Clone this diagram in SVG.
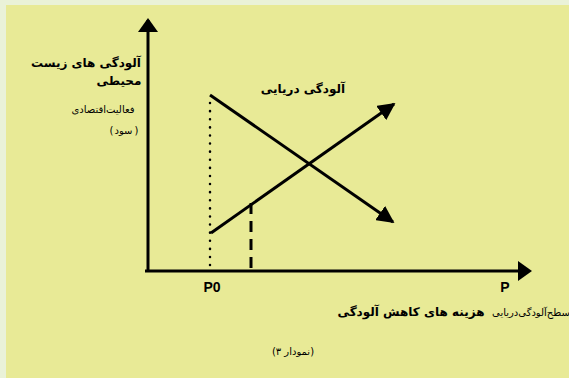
<svg xmlns="http://www.w3.org/2000/svg" width="569" height="378" viewBox="0 0 569 378">
<defs>
<style>
.fa{font-family:"DejaVu Sans","Noto Sans",sans-serif;fill:#000;text-anchor:middle}
.b{font-weight:bold}
.lat{font-family:"Liberation Sans",Arial,sans-serif;font-weight:bold;font-size:14px;text-anchor:middle}
.ln{stroke:#000;stroke-width:3;fill:none}
</style>
<marker id="ah2" viewBox="0 0 10 10" refX="9" refY="5" markerWidth="5.8" markerHeight="5.8" orient="auto">
<path d="M0,0 L10,5 L0,10 Z" fill="#000"/>
</marker>
</defs>
<rect x="0" y="0" width="569" height="378" fill="#eaf2d8"/>
<rect x="6" y="5" width="563" height="373" fill="#e8ea96"/>
<g id="connectors">
<line class="ln" x1="148" y1="272" x2="148" y2="20"/>
<path d="M138,32 L148,18 L158,32 Z" fill="#000"/>
<line class="ln" x1="145" y1="271" x2="520" y2="271"/>
<path d="M518,261 L532,271 L518,281 Z" fill="#000"/>
<line x1="210" y1="103" x2="210" y2="271" stroke="#000" stroke-width="2.5" stroke-dasharray="0.1 8" stroke-linecap="round"/>
<line x1="251" y1="203" x2="251" y2="270" stroke="#000" stroke-width="3" stroke-dasharray="11 7"/>
<line class="ln" x1="210" y1="95" x2="393" y2="222" marker-end="url(#ah2)"/>
<line class="ln" x1="211" y1="233" x2="394" y2="104" marker-end="url(#ah2)"/>
</g>
<g id="y-label">
<text class="fa b" x="86" y="67" font-size="12">آلودگی های زیست</text>
<text class="fa b" x="119" y="85" font-size="12">محیطی</text>
<text class="fa" x="103" y="113" font-size="10">فعالیت‌اقتصادی</text>
<text class="fa" y="134" font-size="10"><tspan x="111.5">(</tspan><tspan x="123.5">سود</tspan><tspan x="136.5">)</tspan></text>
</g>
<g id="curve-label">
<text class="fa b" x="303" y="93" font-size="12">آلودگی دریایی</text>
</g>
<g id="x-label">
<text class="lat" x="212" y="292">P0</text>
<text class="lat" x="505" y="292">P</text>
<text class="fa b" x="411" y="316" font-size="12">هزینه های کاهش آلودگی</text>
<text class="fa" x="531" y="316" font-size="10">سطح‌آلودگی‌دریایی</text>
</g>
<g id="caption">
<text class="fa" x="293" y="355" font-size="10">(نمودار ۳)</text>
</g>
</svg>
